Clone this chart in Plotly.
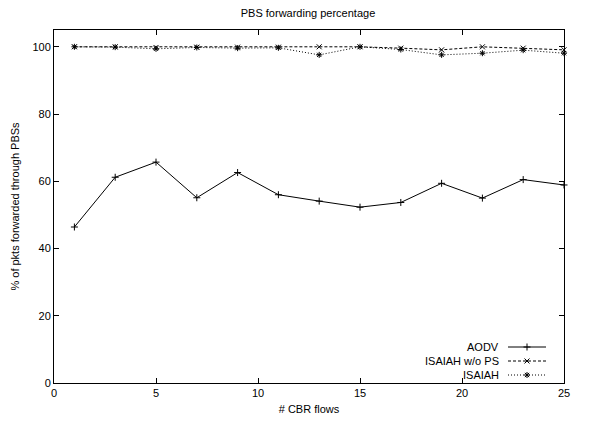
import plotly.graph_objects as go

flows = [1, 3, 5, 7, 9, 11, 13, 15, 17, 19, 21, 23, 25]
aodv = [46.4, 61.2, 65.7, 55.1, 62.6, 56.0, 54.1, 52.3, 53.7, 59.4, 55.0, 60.5, 58.9]
isaiah_wo_ps = [100.0, 100.0, 99.8, 99.9, 99.9, 99.9, 100.0, 100.0, 99.6, 99.1, 100.0, 99.6, 99.1]
isaiah = [100.0, 99.9, 99.4, 99.8, 99.6, 99.7, 97.6, 100.0, 99.2, 97.6, 98.1, 99.0, 98.1]

series_names = ["AODV", "ISAIAH w/o PS", "ISAIAH"]
series_vals = [aodv, isaiah_wo_ps, isaiah]
dashes = ["solid", "3px,2px", "1px,2px"]
symbols = ["cross-thin", "x-thin", "asterisk"]

x_ticks = [0, 5, 10, 15, 20, 25]
y_ticks = [0, 20, 40, 60, 80, 100]

FONT = "Liberation Sans, Arial, Helvetica, sans-serif"

fig = go.Figure()
for name, vals, d, s in zip(series_names, series_vals, dashes, symbols):
    fig.add_trace(go.Scatter(
        x=flows, y=vals, mode="lines+markers", name=name,
        line=dict(color="black", width=1, dash=d),
        marker=dict(symbol=s, size=5, color="black", line=dict(color="black", width=1)),
        showlegend=False, cliponaxis=False,
    ))

# custom legend (text left of sample, gnuplot style) in pixel-like overlay axes
leg_y = [347, 361, 375]
for name, d, s, yy in zip(series_names, dashes, symbols, leg_y):
    fig.add_trace(go.Scatter(
        x=[508, 527, 546], y=[yy, yy, yy], xaxis="x2", yaxis="y2",
        mode="lines", line=dict(color="black", width=1, dash=d),
        showlegend=False, hoverinfo="skip"))
    fig.add_trace(go.Scatter(
        x=[527], y=[yy], xaxis="x2", yaxis="y2", mode="markers",
        marker=dict(symbol=s, size=5, color="black", line=dict(color="black", width=1)),
        showlegend=False, hoverinfo="skip"))
    fig.add_annotation(x=501, y=yy, xref="x2", yref="y2", text=name, showarrow=False,
                       xanchor="right", yanchor="middle",
                       font=dict(family=FONT, size=11, color="black"))

axis_common = dict(showgrid=False, zeroline=False, showline=True, linecolor="black",
                   linewidth=1, mirror="ticks", ticks="inside", ticklen=5, automargin=False,
                   tickcolor="black", tickfont=dict(family=FONT, size=11, color="black"))

# page has an 8px body margin; figure sized to fit the window
fig.update_layout(
    width=575, height=407,
    margin=dict(l=46, r=19, t=22, b=32),
    paper_bgcolor="white", plot_bgcolor="white",
    title=dict(text="PBS forwarding percentage", x=(308 - 8) / 575, xanchor="center",
               y=1 - 1 / 407, yanchor="top", automargin=False,
               font=dict(family=FONT, size=11, color="black")),
    xaxis=dict(range=[0, 25], tickvals=x_ticks,
               title=dict(text="# CBR flows", font=dict(family=FONT, size=11, color="black"), standoff=8),
               **axis_common),
    yaxis=dict(range=[0, 105], tickvals=y_ticks,
               title=dict(text="% of pkts forwarded through PBSs", font=dict(family=FONT, size=11, color="black"), standoff=10),
               **axis_common),
    xaxis2=dict(overlaying="x", range=[54, 564], visible=False, fixedrange=True),
    yaxis2=dict(overlaying="y", range=[383, 30], visible=False, fixedrange=True),
    font=dict(family=FONT, size=11, color="black"),
)

fig.write_html("out.html")
